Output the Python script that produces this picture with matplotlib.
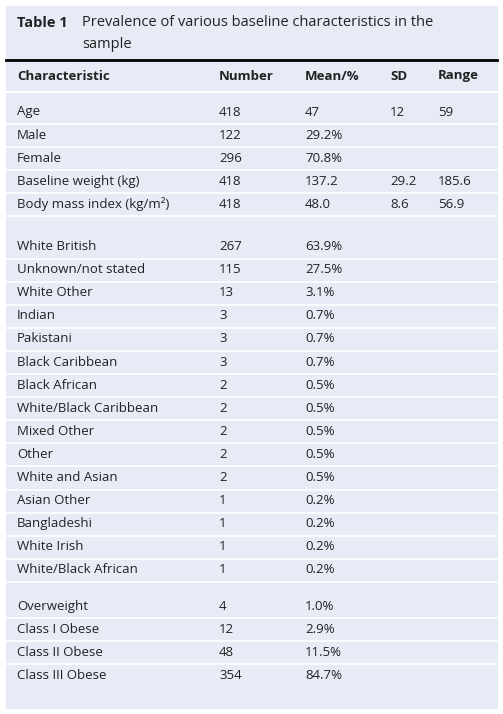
import matplotlib.pyplot as plt

plt.rcParams['font.family'] = ['Open Sans', 'DejaVu Sans']

header = ["Characteristic", "Number", "Mean/%", "SD", "Range"]
groups = [
    [("Age", "418", "47", "12", "59"),
     ("Male", "122", "29.2%", "", ""),
     ("Female", "296", "70.8%", "", ""),
     ("Baseline weight (kg)", "418", "137.2", "29.2", "185.6"),
     ("Body mass index (kg/m²)", "418", "48.0", "8.6", "56.9")],
    [("White British", "267", "63.9%", "", ""),
     ("Unknown/not stated", "115", "27.5%", "", ""),
     ("White Other", "13", "3.1%", "", ""),
     ("Indian", "3", "0.7%", "", ""),
     ("Pakistani", "3", "0.7%", "", ""),
     ("Black Caribbean", "3", "0.7%", "", ""),
     ("Black African", "2", "0.5%", "", ""),
     ("White/Black Caribbean", "2", "0.5%", "", ""),
     ("Mixed Other", "2", "0.5%", "", ""),
     ("Other", "2", "0.5%", "", ""),
     ("White and Asian", "2", "0.5%", "", ""),
     ("Asian Other", "1", "0.2%", "", ""),
     ("Bangladeshi", "1", "0.2%", "", ""),
     ("White Irish", "1", "0.2%", "", ""),
     ("White/Black African", "1", "0.2%", "", "")],
    [("Overweight", "4", "1.0%", "", ""),
     ("Class I Obese", "12", "2.9%", "", ""),
     ("Class II Obese", "48", "11.5%", "", ""),
     ("Class III Obese", "354", "84.7%", "", "")],
]
col_x = [17, 219, 305, 390, 438]
gaps = [19, 13, 0]

fig = plt.figure(figsize=(5.03, 7.14), dpi=100)
ax = fig.add_axes([0, 0, 1, 1])
ax.set_xlim(0, 503)
ax.set_ylim(714, 0)
ax.axis('off')

bg = '#e6ebf6'
ax.add_patch(plt.Rectangle((6, 6), 491, 702, color=bg, zorder=0))
ax.text(17, 23, "Table 1", fontsize=10.5, fontweight='bold', va='center', color='#222222')
ax.text(82, 23, "Prevalence of various baseline characteristics in the", fontsize=10.5, va='center', color='#222222')
ax.text(82, 44, "sample", fontsize=10.5, va='center', color='#222222')
ax.plot([6, 497], [60, 60], color='black', lw=2)

for x, h in zip(col_x, header):
    ax.text(x, 76, h, fontsize=9.5, fontweight='bold', va='center', color='#222222')
ax.plot([6, 497], [92, 92], color='white', lw=1.5)

y = 112
for gi, g in enumerate(groups):
    for ri, row in enumerate(g):
        for x, v in zip(col_x, row):
            ax.text(x, y, v, fontsize=9.5, va='center', color='#222222')
        if not (gi == len(groups) - 1 and ri == len(g) - 1):
            ax.plot([6, 497], [y + 12, y + 12], color='white', lw=1.2)
        y += 23.1
    y += gaps[gi]

fig.savefig('out.png', dpi=100)
